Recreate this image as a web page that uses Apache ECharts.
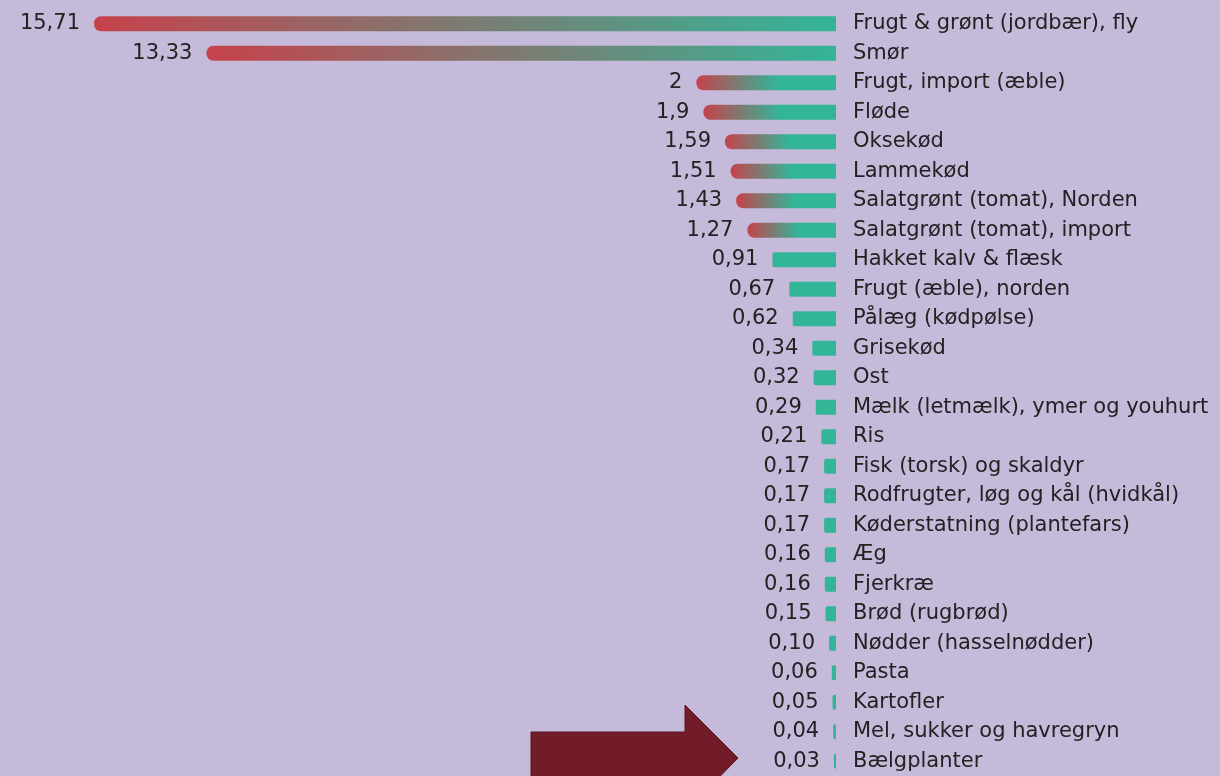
<!DOCTYPE html>
<html>
<head>
<meta charset="utf-8">
<script src="https://cdn.jsdelivr.net/npm/echarts@6/dist/echarts.min.js"></script>
<style>
  html, body { margin: 0; padding: 0; background: #c5bad9; }
  #chart { width: 1220px; height: 776px; }
</style>
</head>
<body>
<div id="chart"></div>
<script>
// kategorier, top til bund
const categories = [
  'Frugt & grønt (jordbær), fly', 'Smør', 'Frugt, import (æble)', 'Fløde',
  'Oksekød', 'Lammekød', 'Salatgrønt (tomat), Norden', 'Salatgrønt (tomat), import',
  'Hakket kalv & flæsk', 'Frugt (æble), norden', 'Pålæg (kødpølse)', 'Grisekød',
  'Ost', 'Mælk (letmælk), ymer og youhurt', 'Ris', 'Fisk (torsk) og skaldyr',
  'Rodfrugter, løg og kål (hvidkål)', 'Køderstatning (plantefars)', 'Æg', 'Fjerkræ',
  'Brød (rugbrød)', 'Nødder (hasselnødder)', 'Pasta', 'Kartofler',
  'Mel, sukker og havregryn', 'Bælgplanter'
]
const values = [
  15.71, 13.33, 2, 1.9, 1.59, 1.51, 1.43, 1.27,
  0.91, 0.67, 0.62, 0.34, 0.32, 0.29, 0.21, 0.17,
  0.17, 0.17, 0.16, 0.16, 0.15, 0.10, 0.06, 0.05,
  0.04, 0.03
]
const valueLabels = [
  '15,71', '13,33', '2', '1,9', '1,59', '1,51', '1,43', '1,27',
  '0,91', '0,67', '0,62', '0,34', '0,32', '0,29', '0,21', '0,17',
  '0,17', '0,17', '0,16', '0,16', '0,15', '0,10', '0,06', '0,05',
  '0,04', '0,03'
]
// de to største søjler er tegnet i en sammenpresset skala
const breakAt = 10

const RED = '#c6424c'
const TEAL = '#33b598'
const FONT = 'DejaVu Sans'
const TEXT = '#222222'

function barColor(v) {
  if (v > breakAt) {
    return new echarts.graphic.LinearGradient(0, 0, 1, 0, [
      { offset: 0, color: RED },
      { offset: 1, color: TEAL }
    ])
  }
  if (v >= 1) {
    return new echarts.graphic.LinearGradient(0, 0, 1, 0, [
      { offset: 0, color: RED },
      { offset: 0.58, color: TEAL },
      { offset: 1, color: TEAL }
    ])
  }
  return TEAL
}

function makeData(big) {
  return values.map(v => {
    if ((v > breakAt) !== big) return '-'
    const r = v >= 1 ? 7 : 2
    return {
      value: v,
      itemStyle: { color: barColor(v), borderRadius: [r, 0, 0, r] }
    }
  })
}

const chart = echarts.init(document.getElementById('chart'))

const label = {
  show: true,
  position: 'left',
  distance: 14,
  color: TEXT,
  fontFamily: FONT,
  fontSize: 21,
  formatter: p => valueLabels[p.dataIndex]
}

const option = {
  backgroundColor: '#c5bad9',
  animation: false,
  grid: { left: 94, right: 384, top: 9, height: 769 },
  xAxis: [
    { type: 'value', inverse: true, min: 0, max: 10.63, show: false },
    { type: 'value', inverse: true, min: 0, max: 15.71, show: false }
  ],
  yAxis: {
    type: 'category',
    data: categories,
    inverse: true,
    position: 'right',
    axisLine: { show: false },
    axisTick: { show: false },
    splitLine: { show: false },
    axisLabel: {
      margin: 17,
      color: TEXT,
      fontFamily: FONT,
      fontSize: 21
    }
  },
  series: [
    {
      type: 'bar',
      xAxisIndex: 0,
      barWidth: 15,
      barGap: '-100%',
      label: label,
      data: makeData(false)
    },
    {
      type: 'bar',
      xAxisIndex: 1,
      barWidth: 15,
      barGap: '-100%',
      label: label,
      data: makeData(true)
    }
  ],
  graphic: [
    {
      type: 'polygon',
      z: 100,
      shape: {
        points: [[531, 732], [685, 732], [685, 705], [738, 758], [685, 812], [685, 785], [531, 785]]
      },
      style: { fill: '#721c27', stroke: '#5c1520', lineWidth: 1 }
    }
  ]
}

chart.setOption(option)
</script>
</body>
</html>
